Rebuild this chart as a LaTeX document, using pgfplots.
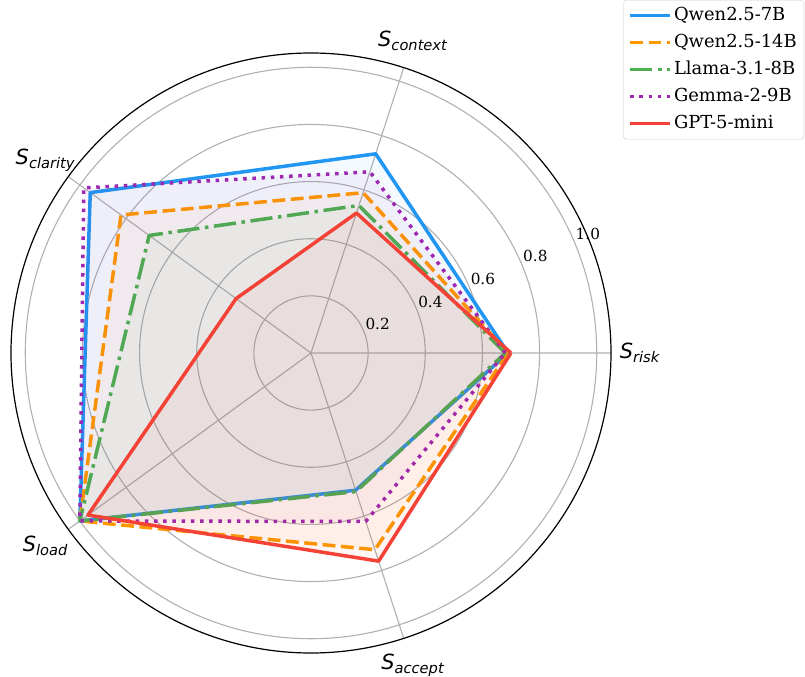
\documentclass[border=0pt]{standalone}
\usepackage{fontspec}
\setmainfont{DejaVu Serif}
\newfontfamily\dvsans{DejaVu Sans}
\usepackage{pgfplots}
\pgfplotsset{compat=1.18}
\usepgfplotslibrary{polar}

\definecolor{cblue}{HTML}{2196F3}
\definecolor{corange}{HTML}{FF9800}
\definecolor{cgreen}{HTML}{4CAF50}
\definecolor{cpurple}{HTML}{9C27B0}
\definecolor{cred}{HTML}{F44336}

% S label: italic S with a lowered subscript
\newcommand{\Slab}[1]{{\fontsize{21}{21}\selectfont\dvsans\itshape S}\raisebox{-4bp}{\fontsize{14.7}{15}\selectfont\dvsans\itshape #1}}
\newcommand{\tickfont}{\fontsize{15.3}{16}\selectfont}

\begin{document}
\begin{tikzpicture}
\begin{polaraxis}[
    width=600bp, height=600bp, scale only axis,
    xmin=0, xmax=360, ymin=0, ymax=1.05,
    xtick={0,72,144,216,288}, xticklabels={},
    ytick={0.2,0.4,0.6,0.8,1.0}, yticklabels={},
    xmajorgrids, ymajorgrids,
    major grid style={draw=black!31, line width=1.1bp},
    major tick length=0pt,
    axis line style={black, line width=1.2bp},
    y axis line style={draw=none},
    clip=false,
    every axis plot/.append style={line width=3.5bp, line join=round},
    legend image code/.code={\draw[#1, fill=none] (0bp,0bp) -- (40bp,0bp);},
    legend style={at={(1.3217,1.0883)}, anchor=north east,
        draw=black!20, rounded corners=3bp, fill=white, fill opacity=0.8, text opacity=1,
        font=\fontsize{18}{18}\selectfont,
        nodes={text height=13bp, text depth=4bp, inner sep=2bp},
        row sep=6bp, inner xsep=5bp, inner ysep=5bp},
    legend cell align=left,
]
\coordinate (c) at (axis cs:0,0);

\addplot[cblue, fill=cblue, fill opacity=0.05, draw opacity=1]
    coordinates {(0,0.69) (72,0.733) (144,0.955) (216,1.0) (288,0.505) (360,0.69)};
\addlegendentry{Qwen2.5-7B}
\addplot[corange, dash pattern=on 12.8bp off 5.6bp, fill=corange, fill opacity=0.05, draw opacity=1]
    coordinates {(0,0.69) (72,0.59) (144,0.822) (216,1.0) (288,0.724) (360,0.69)};
\addlegendentry{Qwen2.5-14B}
\addplot[cgreen, dash pattern=on 22.2bp off 5.6bp on 3.5bp off 5.6bp, fill=cgreen, fill opacity=0.05, draw opacity=1]
    coordinates {(0,0.68) (72,0.543) (144,0.70) (216,1.0) (288,0.51) (360,0.68)};
\addlegendentry{Llama-3.1-8B}
\addplot[cpurple, dash pattern=on 3.5bp off 5.7bp, fill=cpurple, fill opacity=0.05, draw opacity=1]
    coordinates {(0,0.68) (72,0.667) (144,0.983) (216,1.0) (288,0.62) (360,0.68)};
\addlegendentry{Gemma-2-9B}
\addplot[cred, fill=cred, fill opacity=0.05, draw opacity=1]
    coordinates {(0,0.70) (72,0.515) (144,0.324) (216,0.965) (288,0.766) (360,0.70)};
\addlegendentry{GPT-5-mini}

% axis labels
\node at (axis cs:0,1.15) {\Slab{risk}};
\node at (axis cs:72,1.15) {\Slab{context}};
\node at (axis cs:144,1.15) {\Slab{clarity}};
\node at (axis cs:216,1.15) {\Slab{load}};
\node at (axis cs:288,1.15) {\Slab{accept}};

% radial tick labels
\node[font=\tickfont] at (axis cs:23.3,0.254) {0.2};
\node[font=\tickfont] at (axis cs:23.3,0.455) {0.4};
\node[font=\tickfont] at (axis cs:23.3,0.655) {0.6};
\node[font=\tickfont] at (axis cs:23.3,0.855) {0.8};
\node[font=\tickfont] at (axis cs:23.3,1.055) {1.0};
\end{polaraxis}
\pgfresetboundingbox
\path ([shift={(-311bp,-324bp)}]c) rectangle ([shift={(494bp,353bp)}]c);
\end{tikzpicture}
\end{document}
